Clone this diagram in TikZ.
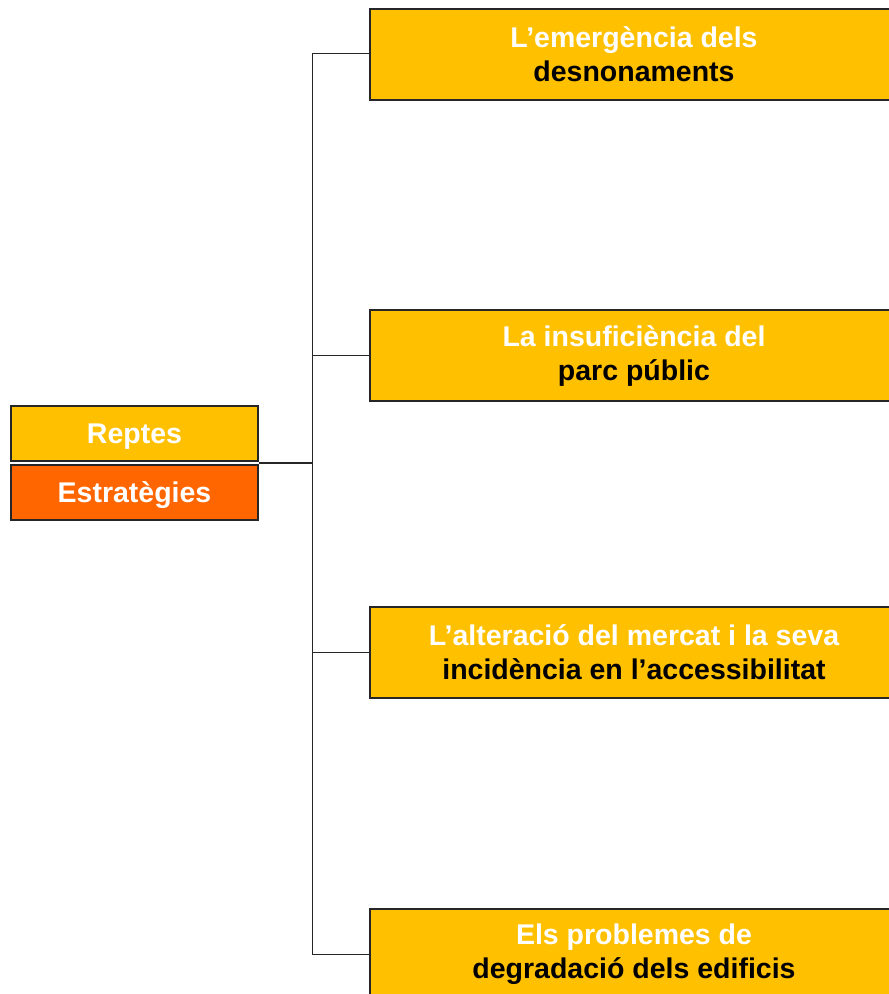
\documentclass[tikz,border=0pt]{standalone}
\usepackage{fontspec}
\setmainfont{Liberation Sans}
\usetikzlibrary{calc}
\definecolor{ygold}{HTML}{FFC000}
\definecolor{oranj}{HTML}{FF6600}
\begin{document}
\begin{tikzpicture}[x=1pt,y=-1pt,
  rbox/.style={draw=black!85,line width=1.4pt,fill=ygold,minimum width=528pt,minimum height=91pt,inner sep=0pt,align=center,font=\fontsize{28.5}{34}\selectfont\bfseries},
  lbox/.style={draw=black!85,line width=1.4pt,minimum width=247pt,minimum height=55pt,inner sep=0pt,text height=20.5pt,text depth=0pt,text=white,font=\fontsize{28.5}{32}\selectfont\bfseries},
  conn/.style={draw=black!85,line width=1.5pt}]
\useasboundingbox (0,0) rectangle (889,994);
\node[lbox,fill=ygold] (reptes) at (134.5,433.5) {Reptes};
\node[lbox,fill=oranj] (estr) at (134.5,492.5) {Estratègies};
\node[rbox] (b1) at (634,54.5) {\textcolor{white}{L’emergència dels}\\desnonaments};
\node[rbox] (b2) at (634,355.5) {\textcolor{white}{La insuficiència del}\\parc públic};
\node[rbox] (b3) at (634,652.5) {\textcolor{white}{L’alteració del mercat i la seva}\\incidència en l’accessibilitat};
\node[rbox] (b4) at (634,954.5) {\textcolor{white}{Els problemes de}\\degradació dels edificis};
\coordinate (j) at ($(reptes.south east)!0.5!(estr.north east)$);
\coordinate (s1) at ($(b1.west)+(-57,-1)$);
\coordinate (s4) at ($(b4.west)+(-57,0)$);
\draw[conn] (b1.west |- s1) -- (s1) -- (s4) -- (b4.west);
\draw[conn] (b2.west) -- (b2.west -| s1);
\draw[conn] (b3.west) -- (b3.west -| s1);
\draw[conn] (j) -- (j -| s1);
\end{tikzpicture}
\end{document}
